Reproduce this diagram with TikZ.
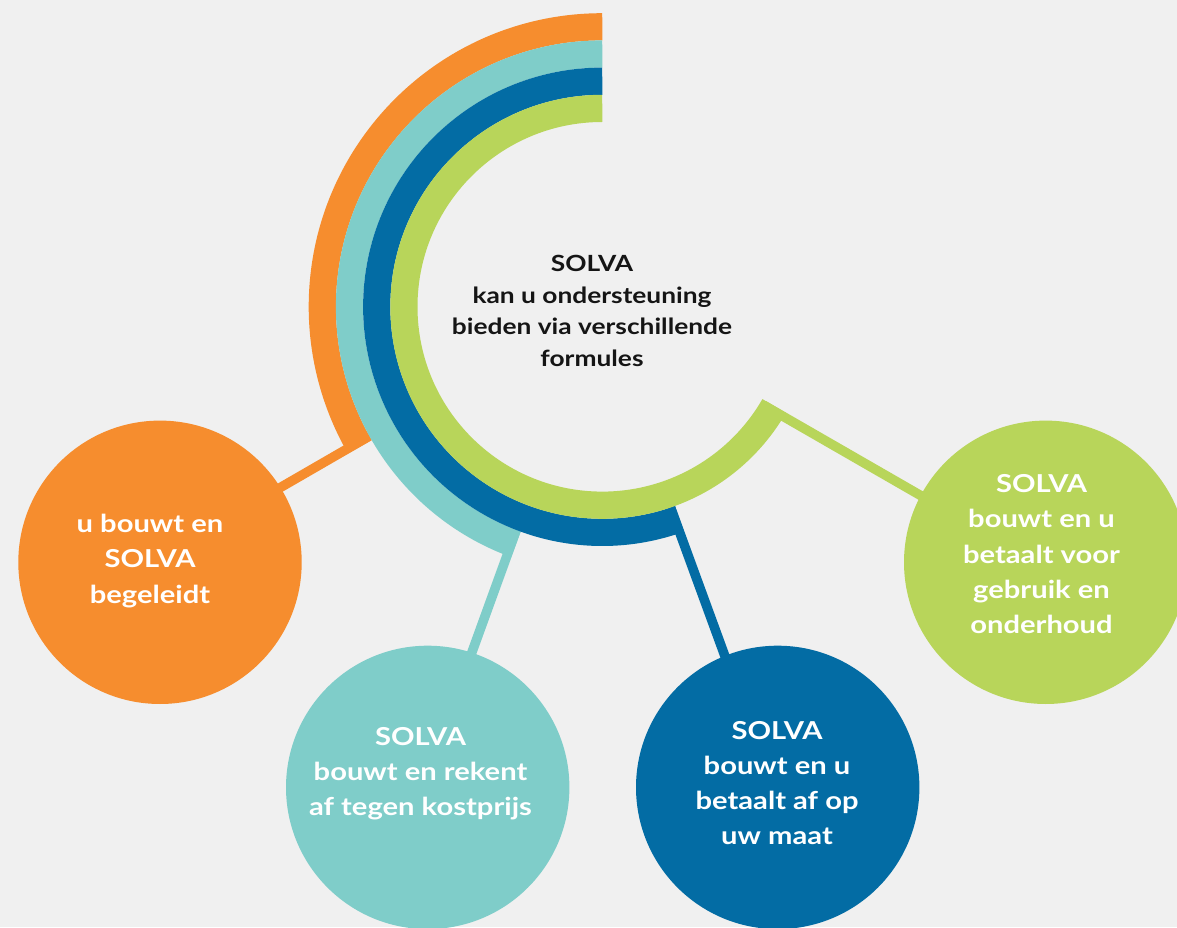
\documentclass[tikz,border=0pt]{standalone}
\usepackage{fontspec}
\setmainfont{Lato}[FakeStretch=1.18]
\usetikzlibrary{calc}
\pgfdeclarelayer{background}
\pgfsetlayers{background,main}
\definecolor{bgc}{HTML}{F0F0F0}
\definecolor{sorange}{HTML}{F68D2E}
\definecolor{steal}{HTML}{7FCDC9}
\definecolor{sblue}{HTML}{036CA4}
\definecolor{sgreen}{HTML}{B8D55A}
\definecolor{stext}{HTML}{151515}
\begin{document}
\begin{tikzpicture}[x=1pt,y=1pt,
  band/.style={line width=27.2pt, line cap=butt},
  conn/.style={line width=9.5pt, line cap=butt},
  bubble/.style={circle, minimum size=283.4pt, inner sep=0pt, draw=none},
  bubbletext/.style={text=white, align=center, font=\fontsize{24.7}{35.2}\selectfont\bfseries, inner sep=0pt},
  centertext/.style={text=stext, align=center, font=\fontsize{22.3}{31.5}\selectfont\bfseries, inner sep=0pt}]
\useasboundingbox (0,0) rectangle (1177,927);
\begin{pgfonlayer}{background}
  \fill[bgc] (0,0) rectangle (1177,927);
\end{pgfonlayer}
\coordinate (C) at (602.3,620.2);
% concentric arcs
\draw[band, sorange] ($(C)+(90:280pt)$) arc[start angle=90, end angle=210, radius=280pt];
\draw[band, steal]   ($(C)+(90:252.8pt)$) arc[start angle=90, end angle=250, radius=252.8pt];
\draw[band, sblue]   ($(C)+(90:225.6pt)$) arc[start angle=90, end angle=290, radius=225.6pt];
\draw[band, sgreen]  ($(C)+(90:198.4pt)$) arc[start angle=90, end angle=330, radius=198.4pt];
% arc ends
\coordinate (oend) at ($(C)+(210:266.4pt)$);
\coordinate (tend) at ($(C)+(250:239.2pt)$);
\coordinate (bend) at ($(C)+(290:212pt)$);
\coordinate (gend) at ($(C)+(330:189pt)$);
% bubbles
\node[bubble, fill=sorange] (ob) at (160,364.7) {};
\node[bubble, fill=steal]   (tb) at (427.7,139.6) {};
\node[bubble, fill=sblue]   (bb) at (777.7,139.6) {};
\node[bubble, fill=sgreen]  (gb) at (1045.7,364.7) {};
% connectors
\begin{pgfonlayer}{background}
  \draw[conn, sorange, transform canvas={shift={(120:4.5pt)}}] (oend) -- (ob.center);
  \draw[conn, steal,   transform canvas={shift={(160:4.5pt)}}] (tend) -- (tb.center);
  \draw[conn, sblue,   transform canvas={shift={(200:4.5pt)}}] (bend) -- (bb.center);
  \draw[conn, sgreen,  transform canvas={shift={(240:4.5pt)}}] (gend) -- (gb.center);
\end{pgfonlayer}
% texts
\node[centertext] (ct) at (592,616.1) {SOLVA\\kan u ondersteuning\\bieden via verschillende\\formules};
\node[bubbletext] (ot) at (150,366.1) {u bouwt en\\SOLVA\\begeleidt};
\node[bubbletext] (tt) at (420.5,153.4) {SOLVA\\bouwt en rekent\\af tegen kostprijs};
\node[bubbletext] (bt) at (777,144) {SOLVA\\bouwt en u\\betaalt af op\\uw maat};
\node[bubbletext] (gt) at (1041.5,372.8) {SOLVA\\bouwt en u\\betaalt voor\\gebruik en\\onderhoud};
\end{tikzpicture}
\end{document}
